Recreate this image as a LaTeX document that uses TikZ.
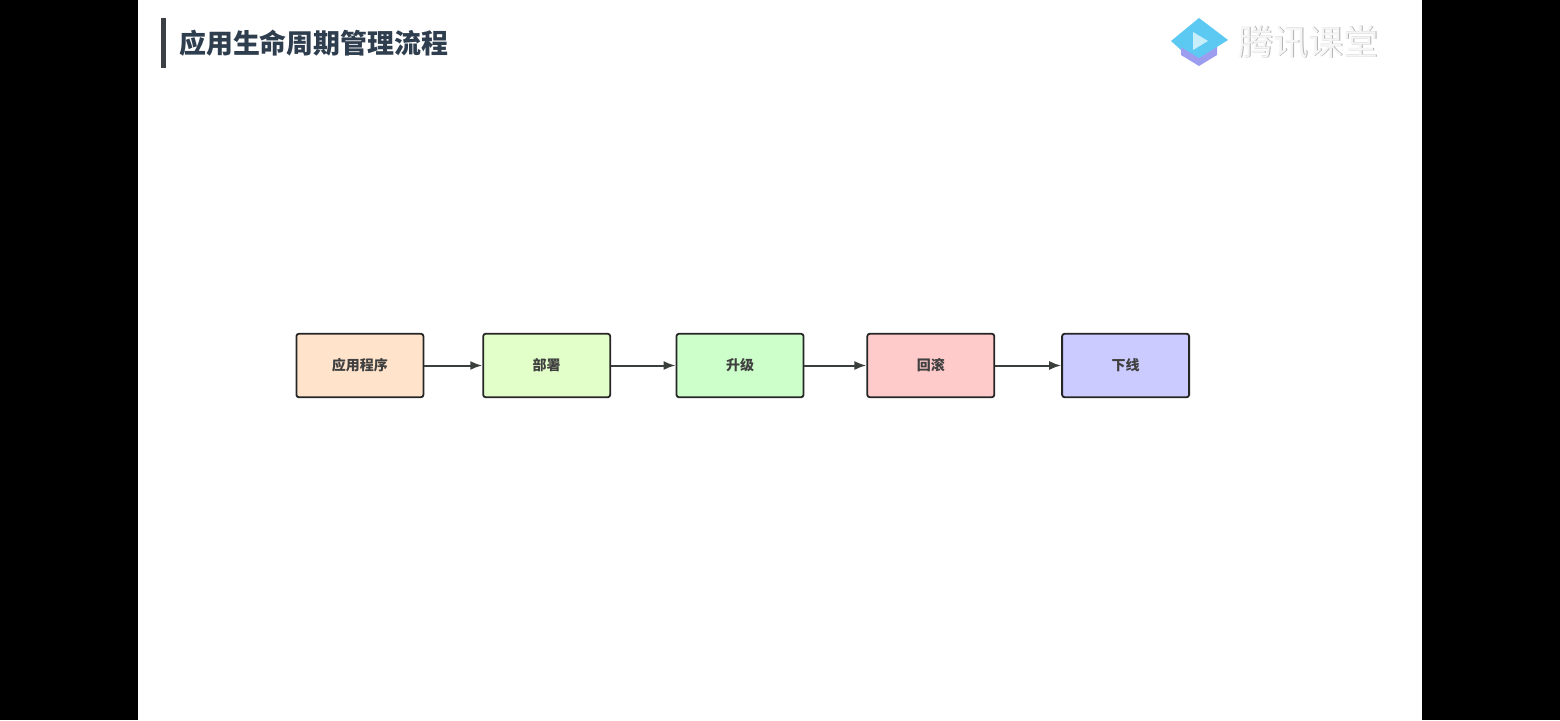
\documentclass[tikz,border=0pt]{standalone}
\usepackage{fontspec}
\setmainfont{Noto Sans CJK SC}
\usepackage{xcolor}
\usetikzlibrary{arrows.meta, positioning}
\definecolor{titleblue}{HTML}{2F3E4E}
\definecolor{barcolor}{HTML}{3C3F44}
\definecolor{linecolor}{HTML}{3A3F3C}
\definecolor{boxorange}{HTML}{FFE3CB}
\definecolor{boxlime}{HTML}{E2FFC9}
\definecolor{boxgreen}{HTML}{CCFFC9}
\definecolor{boxred}{HTML}{FFCACA}
\definecolor{boxblue}{HTML}{CBCBFF}
\definecolor{logocyan}{HTML}{5CC9F2}
\definecolor{logopurple}{HTML}{9D9DF0}
\definecolor{logoplay}{HTML}{C9EEFB}
\tikzset{
  stagebox/.style={draw=black!85, line width=1.8pt, rounded corners=2.5pt, minimum width=127pt,
    minimum height=63.5pt, inner sep=0pt, font=\fontsize{14}{14}\selectfont\bfseries, text=black!75},
  arrow/.style={draw=linecolor, line width=2pt, -{Latex[length=12pt,width=9pt]}}
}
\begin{document}
\begin{tikzpicture}[x=1pt,y=-1pt]
    \useasboundingbox (0,0) rectangle (1560,720);
    % Page and black side bands
    \fill[white] (0,0) rectangle (1560,720);
    \fill[black] (0,0) rectangle (138,720);
    \fill[black] (1422,0) rectangle (1560,720);

    % Title
    \fill[barcolor] (161,18) rectangle (166,68);
    \node[anchor=west, inner sep=0pt, text=titleblue, font=\fontsize{26.9}{27}\selectfont\bfseries] (title) at (179,43.5) {应用生命周期管理流程};

    % Logo
    \fill[logopurple] (1181,44) -- (1217,44) -- (1217,55) -- (1199,66) -- (1181,55) -- cycle;
    \fill[logocyan] (1199,18) -- (1228,40) -- (1199,58) -- (1181,47) -- (1181,50) -- (1171,41) -- cycle;
    \fill[logoplay] (1193,32) -- (1208,41) -- (1193,50) -- cycle;
    \node[anchor=west, inner sep=0pt, text=black!30, font=\fontsize{35}{35}\selectfont] (logoshadow) at (1238.8,42.8) {腾讯课堂};
    \node[anchor=west, inner sep=0pt, text=black!4, font=\fontsize{35}{35}\selectfont] (logotext) at (1238,42) {腾讯课堂};

    % Stages
    \node[stagebox, fill=boxorange, anchor=west] (app) at (295.5,365.5) {应用程序};
    \node[stagebox, fill=boxlime, right=58pt of app] (deploy) {部署};
    \node[stagebox, fill=boxgreen, right=64.5pt of deploy] (upgrade) {升级};
    \node[stagebox, fill=boxred, right=62pt of upgrade] (rollback) {回滚};
    \node[stagebox, fill=boxblue, right=66pt of rollback] (offline) {下线};

    % Connectors
    \draw[arrow] (app) -- (deploy);
    \draw[arrow] (deploy) -- (upgrade);
    \draw[arrow] (upgrade) -- (rollback);
    \draw[arrow] (rollback) -- (offline);
\end{tikzpicture}
\end{document}
